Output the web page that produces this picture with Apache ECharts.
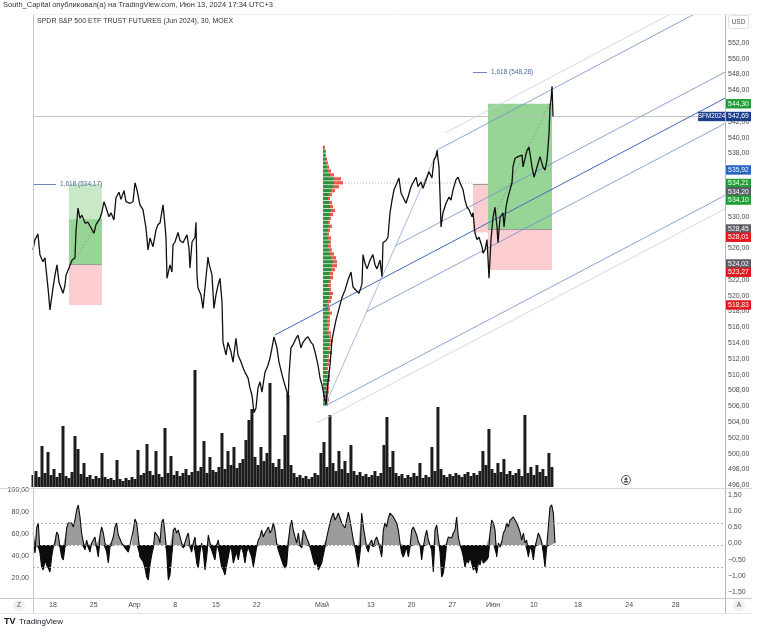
<!DOCTYPE html>
<html><head><meta charset="utf-8">
<script src="https://cdn.jsdelivr.net/npm/echarts@6/dist/echarts.min.js"></script>
<style>html,body{margin:0;padding:0;background:#fff}#c{width:758px;height:632px}</style>
</head><body><div id="c"></div>
<script>
// ---------------- DATA (x = trading days from Mar 18, y = price) ----------------
const pricePath = [
[-2.45,525.8],[-2.21,527.1],[-1.84,527.8],[-1.60,525.2],[-1.23,524.3],[-0.98,524.8],[-0.86,523.5],[-0.61,521.0],[-0.37,518.2],[0.00,521.0],[0.25,522.6],[0.49,523.9],[0.74,521.7],[0.98,521.0],[1.23,520.3],[1.47,521.3],[1.60,522.6],[1.96,523.5],[2.33,524.5],[2.70,524.8],[2.82,528.1],[3.07,531.1],[3.31,529.8],[3.56,530.2],[3.93,529.2],[4.29,529.3],[4.66,528.6],[5.03,527.9],[5.28,529.0],[5.77,529.8],[6.01,530.6],[6.26,531.9],[6.50,531.2],[6.87,530.0],[7.12,530.5],[7.48,529.6],[7.73,532.4],[8.10,533.1],[8.34,532.2],[8.71,533.3],[8.96,531.9],[9.45,531.7],[9.82,531.9],[10.06,534.3],[10.31,533.4],[10.67,531.5],[11.04,530.9],[11.41,528.6],[11.66,525.8],[11.90,527.3],[12.27,526.2],[12.64,528.3],[12.88,529.0],[13.13,529.2],[13.50,531.5],[13.74,529.0],[13.87,527.3],[13.99,522.2],[14.36,523.9],[14.60,523.0],[14.72,526.4],[14.97,526.8],[15.34,528.0],[15.58,527.0],[15.95,526.7],[16.44,527.7],[16.69,526.0],[16.81,523.5],[17.06,526.8],[17.42,527.4],[17.55,529.3],[17.67,522.6],[17.79,521.0],[18.16,520.1],[18.40,518.4],[18.65,521.0],[19.02,524.9],[19.14,524.1],[19.51,522.6],[19.75,518.4],[20.00,520.1],[20.25,521.3],[20.49,522.2],[20.74,519.2],[20.86,514.1],[21.23,512.5],[21.47,514.1],[21.84,512.9],[22.09,511.6],[22.45,514.6],[22.70,512.5],[23.07,511.6],[23.31,510.9],[23.56,510.3],[23.93,509.6],[24.17,508.3],[24.42,507.4],[24.66,505.2],[24.91,505.8],[25.15,508.3],[25.40,509.1],[25.64,507.8],[26.01,510.3],[26.38,511.2],[26.63,512.1],[26.87,513.4],[27.12,514.8],[27.48,513.4],[27.73,511.6],[28.10,510.0],[28.34,509.1],[28.71,507.8],[28.83,506.2],[28.96,510.0],[29.20,513.4],[29.45,513.8],[29.82,514.6],[30.06,515.0],[30.43,513.4],[30.67,514.1],[31.04,514.6],[31.29,514.8],[31.66,514.1],[31.90,513.8],[32.15,512.9],[32.52,511.2],[32.76,509.6],[33.01,508.7],[33.25,507.4],[33.50,506.2],[33.74,509.1],[33.99,511.2],[34.23,514.4],[34.72,516.9],[35.46,519.8],[35.83,520.7],[36.20,522.0],[36.56,523.0],[36.81,521.1],[37.18,520.7],[37.55,520.3],[37.91,521.5],[38.04,525.2],[38.28,524.1],[38.53,523.4],[38.90,524.5],[39.26,525.2],[39.51,523.9],[39.75,523.4],[40.12,524.5],[40.37,522.4],[40.49,526.7],[40.86,527.0],[41.10,527.4],[41.35,530.5],[41.60,532.1],[41.84,533.4],[42.21,534.3],[42.45,534.9],[42.70,533.0],[42.94,532.5],[43.31,531.7],[43.56,532.5],[43.93,533.8],[44.17,534.3],[44.54,535.0],[44.79,533.8],[45.15,534.4],[45.40,533.6],[45.89,535.0],[46.13,535.7],[46.50,534.9],[46.75,537.2],[46.99,537.6],[47.12,538.4],[47.36,536.3],[47.48,533.0],[47.61,528.7],[47.85,530.5],[48.22,531.7],[48.59,532.5],[48.83,532.1],[49.08,533.4],[49.45,534.7],[49.69,535.0],[49.94,534.3],[50.31,533.4],[50.55,532.1],[50.80,531.2],[51.04,530.9],[51.41,530.0],[51.53,530.5],[51.78,527.9],[52.02,527.1],[52.27,527.4],[52.64,526.2],[52.76,525.4],[53.01,525.8],[53.25,527.1],[53.50,522.2],[53.74,527.1],[53.99,529.9],[54.23,531.2],[54.48,528.7],[54.60,526.7],[54.85,529.9],[55.21,530.5],[55.34,528.7],[55.58,531.2],[55.83,532.5],[56.07,533.4],[56.32,534.3],[56.44,536.3],[56.69,537.4],[57.06,537.6],[57.55,537.8],[57.67,536.3],[58.16,538.4],[58.40,538.8],[58.77,536.3],[59.02,535.0],[59.39,536.3],[59.75,537.6],[60.12,536.3],[60.37,535.9],[60.61,537.2],[60.74,538.8],[60.86,540.6],[60.98,543.9],[61.10,544.8],[61.23,546.5],[61.35,542.69]
];
const lastPrice = 542.69;
const tickerName = 'SFM2024';

const volStart = -2.45, volStep = 0.368;
const volumes = [12,16,10,41,14,35,12,18,10,14,61,11,9,15,51,38,13,24,10,12,8,11,9,34,10,8,9,7,27,8,6,9,7,10,8,37,12,14,43,16,12,36,13,10,59,14,31,12,16,11,14,18,12,15,117,16,20,46,14,30,17,15,20,54,18,36,22,40,19,24,28,47,67,78,30,22,40,26,34,104,24,20,28,18,52,92,22,14,10,12,9,11,8,10,14,12,34,45,20,72,24,16,36,18,26,14,42,16,12,15,11,13,10,12,16,11,14,42,70,20,36,14,11,13,9,12,10,14,11,24,9,12,10,40,16,80,18,12,10,13,11,14,12,10,13,15,11,14,12,16,36,22,58,18,14,24,15,28,13,16,12,14,18,11,72,14,20,12,22,15,18,11,34,20];

const oscStart = -2.413, oscStep = 0.2045;
const oscValues = [60.9,42.7,65.5,70,42.7,30,27.3,36.4,31.8,29.1,25.5,39.1,48.2,51.8,61.8,59.1,48.2,39.1,36.4,48.2,
65.5,70,68.2,70,66.4,72.7,81.8,86.4,75.5,60.9,52.7,45.5,54.5,48.2,43.6,51.8,54.5,57.3,47.3,39.1,
59.1,66.4,60.9,51.8,43.6,33.6,48.2,52.7,57.3,66.4,70,59.1,60.9,51.8,52.7,47.3,45.5,43.6,50,50,
63.6,73.6,70,57.3,39.1,38.2,34.5,29.1,20.9,18.2,31.8,40.9,47.3,61.8,63.6,57.3,51.8,70.9,73.6,60.9,
43.6,18.2,22.7,39.1,63.6,65.5,60.9,63.6,61.8,51.8,47.3,48.2,57.3,60.9,48.2,43.6,51.8,57.3,33.6,29.1,
43.6,51.8,43.6,27.3,39.1,59.1,51.8,45.5,40.9,36.4,50,54.5,39.1,30,27.3,22.7,31.8,39.1,48.2,45.5,
33.6,39.1,43.6,36.4,45.5,48.2,42.7,33.6,43.6,48.2,43.6,39.1,30,39.1,48.2,54.5,57.3,63.6,57.3,60.9,
63.6,66.4,60.9,63.6,70,63.6,51.8,45.5,40.9,36.4,31.8,29.1,31.8,51.8,66.4,72.7,63.6,57.3,51.8,60.9,
50,47.3,63.6,60.9,56.4,52.7,48.2,42.7,36.4,31.8,34.5,27.3,25.5,33.6,40.9,48.2,56.4,63.6,70,75.5,
79.1,72.7,75.5,79.1,74.5,70,68.2,65.5,72.7,80,72.7,63.6,54.5,48.2,39.1,30,42.7,79.1,66.4,57.3,
48.2,43.6,51.8,54.5,48.2,54.5,57.3,52.7,51.8,39.1,63.6,70,66.4,74.5,79.1,77.3,75.5,74.5,70,63.6,
51.8,42.7,39.1,43.6,48.2,39.1,48.2,63.6,66.4,68.2,59.1,52.7,50,36.4,48.2,57.3,63.6,54.5,50,45.5,
25.5,63.6,68.2,66.4,43.6,20.9,24.5,36.4,51.8,57.3,59.1,56.4,60.9,63.6,75.5,57.3,50,45.5,39.1,30,
36.4,33.6,39.1,33.6,27.3,30,24.5,34.5,31.8,39.1,33.6,31.8,36.4,39.1,60.9,72.7,70,63.6,39.1,51.8,
48.2,52.7,60.9,63.6,70,66.4,72.7,70.9,75.5,74.5,70,66.4,61.8,54.5,60.9,51.8,54.5,39.1,48.2,45.5,
36.4,48.2,54.5,60.9,57.3,52.7,42.7,30,48.2,66.4,84.5,86.4,79.1,51.8];
const oscLevels = [70, 50, 30];

const timeTickDays   = [0, 5, 10, 15, 20, 25, 33, 39, 44, 49, 54, 59, 64.4, 70.7, 76.4];
const timeTickLabels = ['18','25','Апр','8','15','22','Май','13','20','27','Июн','10','18','24','28'];

// position tool zones: [dayFrom, dayTo, priceLow, priceHigh, kind]
const positionZones = [
  [1.96, 6.01, 524.02, 534.17, 'profitLight'],
  [1.96, 6.01, 524.02, 529.69, 'profit'],
  [1.96, 6.01, 518.83, 524.02, 'loss'],
  [51.53, 53.37, 528.01, 534.20, 'loss'],
  [53.37, 61.23, 528.45, 544.30, 'profit'],
  [53.37, 61.23, 523.27, 528.45, 'loss']
];
// entry lines: [dayFrom, dayTo, price]
const entryLines = [[1.96, 6.01, 524.02], [51.53, 53.37, 534.20], [53.37, 61.23, 528.45]];
// dotted path entry -> current: [d0,p0,d1,p1]
const positionPaths = [[2.45, 524.14, 5.89, 529.84], [53.37, 528.57, 60.98, 544.4]];

// channel (pitchfork) lines: [d0,p0,d1,p1,kind]
const channelLines = [
  [48.10, 540.59, 82.45, 559.3, 'faint'],
  [47.12, 538.44, 82.45, 557.7, 'tine'],
  [41.96, 526.29, 82.45, 548.3, 'tine'],
  [27.24, 515.03, 82.45, 545.0, 'median'],
  [38.40, 517.94, 82.45, 541.8, 'tine'],
  [33.37, 506.04, 82.45, 532.7, 'tine'],
  [32.39, 503.89, 82.45, 531.0, 'faint'],
  [33.37, 506.04, 47.24, 538.44, 'handle']
];

// fib extension labels: [dayFrom, dayTo, price, text]
const fibLevels = [[-3.0, 0.37, 534.17, '1,618 (534,17)'], [51.53, 53.25, 548.28, '1,618 (548,28)']];

// fixed range volume profile
const vpStartDay = 33.13, vpBase = 506, vpRow = 0.5, vpDayPerUnit = 0.1227;
const vpUp   = [2,3,3,4,3,4,5,4,4,3, 4,5,4,6,5,6,7,6,5,4, 5,4,5,6,5,4,5,6,7,6, 5,6,7,6,8,9,10,8,7,6, 5,6,5,4,5,6,5,6,7,8, 7,6,5,6,8,10,11,10,7,5, 4,3,3,2,2,1];
const vpDown = [3,3,2,2,3,2,2,3,2,2, 2,3,2,3,2,3,3,2,3,2, 2,3,2,3,2,2,3,3,3,2, 3,2,3,4,4,5,4,5,4,3, 3,2,3,2,2,3,2,2,3,4, 3,3,2,3,4,6,9,8,4,3, 2,2,1,1,1,1];
const pocPrice = 534.27, pocDays = [35.83, 51.41];

// right price-scale tags
const priceTags = [
  [544.30,'target'],[535.92,'level'],[534.21,'target'],[534.20,'entry'],[534.10,'target'],
  [528.45,'entry'],[528.01,'stop'],[524.02,'entry'],[523.27,'stop'],[518.83,'stop']
];

// ---------------- STYLE ----------------
const FONT = "'Liberation Sans', Arial, sans-serif";
const zoneColor = {profitLight:'#c8e8c8', profit:'#97d597', loss:'#fccdd0'};
const tagColor = {target:'#1f9e36', level:'#2563c4', entry:'#5b5e66', stop:'#e3191f', last:'#1c3d8c'};
const lineColor = {faint:'#c3cde3', tine:'#6d8dcb', median:'#416bb6', handle:'#8fa8da'};
const fmt = v => v.toFixed(2).replace('.', ',');
const X_MIN = -2.45, X_MAX = 82.45;

const chart = echarts.init(document.getElementById('c'), null, {renderer:'canvas', width:758, height:632});

const gridBase = {left:33, right:33, outerBoundsMode:'none', containLabel:false};
const hiddenX = (gi) => ({type:'value', gridIndex:gi, min:X_MIN, max:X_MAX, show:false, splitLine:{show:false}});

const priceData = pricePath;
const volData = volumes.map((v,i)=>[volStart + i*volStep, v]);
const oscData = oscValues.map((v,i)=>[oscStart + i*oscStep, v]);

const option = {
  animation:false,
  backgroundColor:'#ffffff',
  grid:[
    Object.assign({top:14.5, height:470.8}, gridBase),
    Object.assign({top:14.5, height:472.5}, gridBase),
    Object.assign({top:490, height:110}, gridBase)
  ],
  xAxis:[
    hiddenX(0), hiddenX(1),
    {type:'value', gridIndex:2, min:X_MIN, max:X_MAX,
     axisLine:{show:false}, axisTick:{show:false}, splitLine:{show:false},
     axisLabel:{customValues:timeTickDays, margin:2, fontSize:7, fontFamily:FONT, color:'#4a4a4a',
       formatter:v=>{const i=timeTickDays.findIndex(t=>Math.abs(t-v)<1e-6);return i>=0?timeTickLabels[i]:'';}}}
  ],
  yAxis:[
    {type:'value', gridIndex:0, position:'right', min:496, max:555.6, interval:2,
     axisLine:{show:false}, axisTick:{show:false}, splitLine:{show:false},
     axisLabel:{margin:3, fontSize:7, fontFamily:FONT, color:'#4a4a4a', showMinLabel:true, showMaxLabel:false,
       formatter:v=> v>552.5 ? '' : fmt(v)}},
    {type:'value', gridIndex:1, min:0, max:472.5, show:false, splitLine:{show:false}},
    {type:'value', gridIndex:2, position:'left', min:0, max:100, interval:20,
     axisLine:{show:false}, axisTick:{show:false}, splitLine:{show:false},
     axisLabel:{margin:4, fontSize:7, fontFamily:FONT, color:'#4a4a4a', formatter:v=> v===0 ? '' : fmt(v)}},
    {type:'value', gridIndex:2, position:'right', min:-1.748, max:1.655,
     axisLine:{show:false}, axisTick:{show:false}, splitLine:{show:false},
     axisLabel:{customValues:[-1.5,-1,-0.5,0,0.5,1,1.5], margin:3, fontSize:7, fontFamily:FONT, color:'#4a4a4a',
       formatter:v=> (v<0?'\u2212':'') + fmt(Math.abs(v))}}
  ],
  series:[
    // volume
    {type:'custom', xAxisIndex:1, yAxisIndex:1, z:1, data:volData, silent:true,
     renderItem:(p,api)=>{const d=api.value(0),v=api.value(1);const t=api.coord([d,v]),b=api.coord([d,0]);
       return {type:'rect', shape:{x:t[0]-1.5,y:t[1],width:3,height:b[1]-t[1]}, style:{fill:'#1c1c1c'}};}},
    // position zones
    {type:'custom', xAxisIndex:0, yAxisIndex:0, z:2, silent:true, data:positionZones.map(z=>[z[0],z[2]]),
     renderItem:(p,api)=>{const z=positionZones[p.dataIndex];const a=api.coord([z[0],z[3]]),b=api.coord([z[1],z[2]]);
       return {type:'rect', shape:{x:a[0],y:a[1],width:b[0]-a[0],height:b[1]-a[1]}, style:{fill:zoneColor[z[4]]}};}},
    // entry lines
    {type:'custom', xAxisIndex:0, yAxisIndex:0, z:3, silent:true, data:entryLines.map(e=>[e[0],e[2]]),
     renderItem:(p,api)=>{const e=entryLines[p.dataIndex];const a=api.coord([e[0],e[2]]),b=api.coord([e[1],e[2]]);
       return {type:'line', shape:{x1:a[0],y1:Math.round(a[1])+0.5,x2:b[0],y2:Math.round(a[1])+0.5}, style:{stroke:'#9a9a9a',lineWidth:1}};}},
    // volume profile
    {type:'custom', xAxisIndex:0, yAxisIndex:0, z:4, silent:true, data:vpUp.map((u,i)=>[vpStartDay, vpBase+i*vpRow]),
     renderItem:(p,api)=>{const i=p.dataIndex;const lo=vpBase+i*vpRow, hi=lo+vpRow;
       const a=api.coord([vpStartDay,hi]), b=api.coord([vpStartDay+vpUp[i]*vpDayPerUnit,lo]), c=api.coord([vpStartDay+(vpUp[i]+vpDown[i])*vpDayPerUnit,lo]);
       const h=b[1]-a[1]-0.7;
       return {type:'group', children:[
         {type:'rect', shape:{x:a[0],y:a[1],width:b[0]-a[0],height:h}, style:{fill:'#2f8f3e'}},
         {type:'rect', shape:{x:b[0],y:a[1],width:c[0]-b[0],height:h}, style:{fill:'#ea5a4a'}}]};}},
    // POC line
    {type:'line', xAxisIndex:0, yAxisIndex:0, z:4, silent:true, showSymbol:false, symbol:'none',
     data:[[pocDays[0],pocPrice],[pocDays[1],pocPrice]], lineStyle:{color:'#9a9a9a',width:0.8,type:[1,2]}},
    // channel lines
    ...channelLines.map(l=>({type:'line', xAxisIndex:0, yAxisIndex:0, z:5, silent:true, showSymbol:false, symbol:'none', clip:true,
      data:[[l[0],l[1]],[l[2],l[3]]], lineStyle:{color:lineColor[l[4]], width: l[4]==='median'?1:0.8}})),
    // position dotted paths
    ...positionPaths.map(l=>({type:'line', xAxisIndex:0, yAxisIndex:0, z:5, silent:true, showSymbol:false, symbol:'none',
      data:[[l[0],l[1]],[l[2],l[3]]], lineStyle:{color:'#8a8a8a', width:0.8, type:[1.5,2]}})),
    // price
    {type:'line', xAxisIndex:0, yAxisIndex:0, z:6, silent:true, showSymbol:false, symbol:'none', data:priceData,
     lineStyle:{color:'#111111', width:1.3},
     markLine:{silent:true, symbol:'none', label:{show:false}, lineStyle:{color:'#b7b9bf', width:0.8, type:'solid'},
       data:[{yAxis:lastPrice}]}},
    // fib labels
    {type:'custom', xAxisIndex:0, yAxisIndex:0, z:6, silent:true, clip:false, data:fibLevels.map(f=>[f[1],f[2]]),
     renderItem:(p,api)=>{const f=fibLevels[p.dataIndex];let a=api.coord([f[0],f[2]]);const b=api.coord([f[1],f[2]]);
       const left=Math.max(a[0],33);
       return {type:'group', children:[
         {type:'line', shape:{x1:left,y1:Math.round(a[1])+0.5,x2:b[0],y2:Math.round(a[1])+0.5}, style:{stroke:'#7088b8',lineWidth:1}},
         {type:'text', x:b[0]+4, y:a[1], style:{text:f[3], fill:'#4f6aa0', font:'6.5px '+FONT, verticalAlign:'middle'}}]};}},
    // oscillator fills
    {type:'line', xAxisIndex:2, yAxisIndex:2, z:2, silent:true, showSymbol:false, symbol:'none',
     data:oscData.map(([d,v])=>[d,Math.max(v,50)]), lineStyle:{width:0},
     areaStyle:{origin:50, color:'#9c9c9c', opacity:1}},
    {type:'line', xAxisIndex:2, yAxisIndex:2, z:2, silent:true, showSymbol:false, symbol:'none',
     data:oscData.map(([d,v])=>[d,Math.min(v,50)]), lineStyle:{width:0},
     areaStyle:{origin:50, color:'#0d0d0d', opacity:1}},
    {type:'line', xAxisIndex:2, yAxisIndex:2, z:3, silent:true, showSymbol:false, symbol:'none',
     data:oscData, lineStyle:{color:'#0a0a0a', width:1.1},
     markLine:{silent:true, symbol:'none', label:{show:false}, lineStyle:{color:'#9a9a9a', width:0.8, type:[2,2]},
       data:oscLevels.map(v=>({yAxis:v}))}}
  ]
};
chart.setOption(option);

// ---------- overlay graphics: frame, texts, price tags ----------
const g = [];
const line = (x1,y1,x2,y2,c,w)=>g.push({type:'line', silent:true, z:50, shape:{x1,y1,x2,y2}, style:{stroke:c, lineWidth:w||1}});
line(33.5,14,33.5,613,'#c4c7cd');
line(725.5,14,725.5,613,'#b4b7be');
line(33,14.5,752,14.5,'#eceef2');
line(0,488.5,752,488.5,'#d6d8de');
line(0,598.5,752,598.5,'#c8cbd1');
line(0,613.5,752,613.5,'#e3e5ea');

g.push({type:'text', left:3, top:1, silent:true, z:60, style:{text:'South_Capital опубликовал(а) на TradingView.com, Июн 13, 2024 17:34 UTC+3', font:'7.5px '+FONT, fill:'#333'}});
g.push({type:'text', left:37, top:18, silent:true, z:60, style:{text:'SPDR S&P 500 ETF TRUST FUTURES (Jun 2024), 30, MOEX', font:'7px '+FONT, fill:'#333'}});
g.push({type:'rect', silent:true, z:60, shape:{x:728.5,y:15.5,width:20,height:13,r:2}, style:{fill:'#fff', stroke:'#dfe1e6'}});
g.push({type:'text', x:738.5, y:22, silent:true, z:61, style:{text:'USD', font:'6.5px '+FONT, fill:'#555', align:'center', verticalAlign:'middle'}});
g.push({type:'circle', silent:true, z:60, shape:{cx:19,cy:605.5,r:6}, style:{fill:'#eef0f4'}});
g.push({type:'text', x:19, y:605.5, silent:true, z:61, style:{text:'Z', font:'6.5px '+FONT, fill:'#555', align:'center', verticalAlign:'middle'}});
g.push({type:'circle', silent:true, z:60, shape:{cx:739,cy:605.5,r:6}, style:{fill:'#eef0f4'}});
g.push({type:'text', x:739, y:605.5, silent:true, z:61, style:{text:'A', font:'6.5px '+FONT, fill:'#555', align:'center', verticalAlign:'middle'}});
g.push({type:'circle', silent:true, z:60, shape:{cx:626,cy:480,r:4.5}, style:{fill:'#fff', stroke:'#555', lineWidth:1}});
g.push({type:'circle', silent:true, z:61, shape:{cx:626,cy:479,r:1.6}, style:{fill:'#555'}});
g.push({type:'rect', silent:true, z:61, shape:{x:624,y:481,width:4,height:1.5}, style:{fill:'#555'}});
g.push({type:'text', left:4, top:617, silent:true, z:60, style:{text:'TV', font:'bold 9px '+FONT, fill:'#131722'}});
g.push({type:'text', left:19, top:618, silent:true, z:60, style:{text:'TradingView', font:'8px '+FONT, fill:'#131722'}});

// price tags with overlap resolution (positions from the library's y scale)
const tags = priceTags.map(t=>({v:t[0], kind:t[1]})).concat([{v:lastPrice, kind:'last'}]).sort((a,b)=>b.v-a.v);
let prevY = -Infinity;
tags.forEach(t=>{
  let y = chart.convertToPixel({yAxisIndex:0}, t.v);
  if (y < prevY + 8.3) y = prevY + 8.3;
  prevY = y;
  const c = tagColor[t.kind];
  g.push({type:'rect', silent:true, z:70, shape:{x:726,y:y-4.7,width:25,height:9.4}, style:{fill:c}});
  g.push({type:'text', x:738.5, y:y, silent:true, z:71, style:{text:fmt(t.v), font:'6.8px '+FONT, fill:'#fff', align:'center', verticalAlign:'middle'}});
  if (t.kind==='last') {
    g.push({type:'rect', silent:true, z:70, shape:{x:698,y:y-4.7,width:27,height:9.4}, style:{fill:c}});
    g.push({type:'text', x:711.5, y:y, silent:true, z:71, style:{text:tickerName, font:'6.3px '+FONT, fill:'#fff', align:'center', verticalAlign:'middle'}});
  }
});
chart.setOption({graphic:g});
</script>
</body></html>
